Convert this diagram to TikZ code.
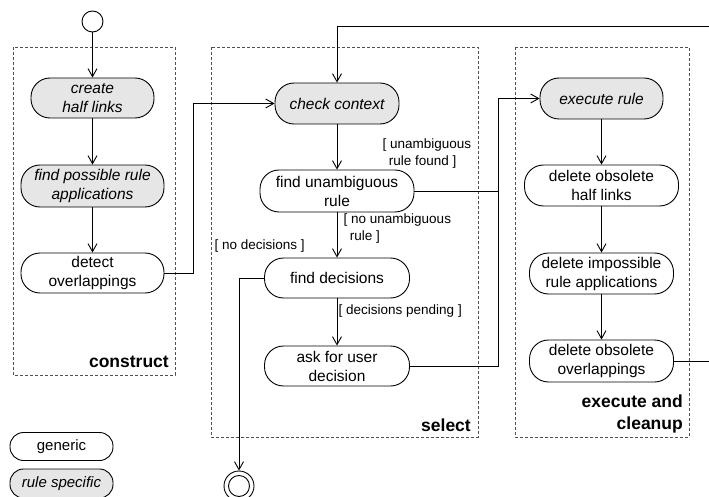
\documentclass[tikz,border=0pt]{standalone}
\usepackage{fontspec}
\setmainfont{Liberation Sans}
\usetikzlibrary{arrows.meta}

\definecolor{actfill}{HTML}{E6E6E6}
\definecolor{framegray}{HTML}{505050}

\tikzset{
  activity/.style={draw, line width=0.9pt, rectangle, rounded corners=19pt,
    inner sep=0pt, align=center, font=\fontsize{15.5}{19}\selectfont},
  specific/.style={activity, fill=actfill, font=\fontsize{15.5}{19}\selectfont\itshape},
  legendbox/.style={rounded corners=13.5pt, minimum width=103pt},
  flow/.style={draw, line width=0.9pt, -{Straight Barb[length=8pt,width=9pt,line width=0.9pt]}},
  plain/.style={draw, line width=0.9pt},
  guard/.style={inner sep=0pt, align=left, font=\fontsize{13.5}{17}\selectfont},
  phase/.style={draw=framegray, line width=0.9pt, dash pattern=on 3pt off 2pt},
  phasename/.style={inner sep=0pt, align=right, font=\fontsize{17.5}{22}\selectfont\bfseries},
}

\begin{document}
\begin{tikzpicture}[x=1pt, y=-1pt]
\useasboundingbox (0,0) rectangle (709,497);

% phase frames
\draw[phase] (13,47) rectangle (175,375);
\draw[phase] (211,47) rectangle (478,437);
\draw[phase] (515,47) rectangle (689,437);
\node[phasename, anchor=base east] (lconstruct) at (169,367) {construct};
\node[phasename, anchor=base east] (lselect) at (471,431) {select};
\node[phasename, anchor=east] (lexecute) at (683,414) {execute and\\cleanup};

% initial and final states
\node[draw, line width=0.9pt, circle, minimum size=21pt, inner sep=0pt] (start) at (92.5,21.5) {};
\node[draw, line width=0.9pt, circle, minimum size=30pt, inner sep=0pt] (final) at (239,486) {};
\node[draw, line width=0.9pt, circle, minimum size=21pt, inner sep=0pt] (finalin) at (239,486) {};

% construct phase
\node[specific, minimum width=123pt, minimum height=40pt] (create) at (92.5,98) {create\\half links};
\node[specific, minimum width=143pt, minimum height=42pt] (findposs) at (92.5,186) {find possible rule\\applications};
\node[activity, minimum width=143pt, minimum height=40pt] (detect) at (92.5,273) {detect\\overlappings};

% select phase
\node[specific, minimum width=124pt, minimum height=41pt] (check) at (337,103.5) {check context};
\node[activity, minimum width=154pt, minimum height=42pt] (findun) at (337,191) {find unambiguous\\rule};
\node[activity, minimum width=145pt, minimum height=40pt] (finddec) at (337,278) {find decisions};
\node[activity, minimum width=145pt, minimum height=40pt] (ask) at (337,366) {ask for user\\decision};

% execute and cleanup phase
\node[specific, minimum width=123pt, minimum height=41pt] (exec) at (601.5,98.5) {execute rule};
\node[activity, minimum width=154pt, minimum height=41pt] (delhalf) at (601.5,185.5) {delete obsolete\\half links};
\node[activity, minimum width=144pt, minimum height=41pt] (delimp) at (601.5,273.5) {delete impossible\\rule applications};
\node[activity, minimum width=144pt, minimum height=42pt] (delover) at (601.5,361) {delete obsolete\\overlappings};

% legend
\node[activity, legendbox, minimum height=28pt, font=\fontsize{15}{18}\selectfont] (lgeneric) at (61.5,446.5) {generic};
\node[specific, legendbox, minimum height=29pt, font=\fontsize{15}{18}\selectfont\itshape] (lspecific) at (61.5,483.5) {rule specific};

% routing points
\coordinate (jconstruct) at (193,0);
\coordinate (jselect) at (498,0);
\coordinate (jend) at (239,0);
\coordinate (jloop) at (720,26);
\coordinate (jtop) at (337,26);

% control flow
\path[flow] (start) -- (create);
\path[flow] (create) -- (findposs);
\path[flow] (findposs) -- (detect);
\path[flow] (detect.east) -- (detect.east -| jconstruct) |- (check.west);
\path[flow] (check) -- (findun);
\path[flow] (findun.east) -- (findun.east -| jselect) |- (exec.west);
\path[plain] (ask.east) -- (ask.east -| jselect) -- (findun.east -| jselect);
\path[flow] (findun) -- (finddec);
\path[flow] (finddec) -- (ask);
\path[flow] (finddec.west) -- (finddec.west -| jend) -- (final.north);
\path[flow] (exec) -- (delhalf);
\path[flow] (delhalf) -- (delimp);
\path[flow] (delimp) -- (delover);
\path[flow] (delover.east) -- (delover.east -| jloop) -- (jloop) -- (jtop) -- (check.north);

% guards
\node[guard, anchor=west] (gfound) at (382.5,153.5) {[ unambiguous\\\hspace{0.45em}rule found ]};
\node[guard, anchor=west] (gnone) at (343.5,228.5) {[ no unambiguous\\\hspace{0.45em}rule ]};
\node[guard, anchor=west] (gnodec) at (214.5,246) {[ no decisions ]};
\node[guard, anchor=west] (gpending) at (338.5,311) {[ decisions pending ]};
\end{tikzpicture}
\end{document}
